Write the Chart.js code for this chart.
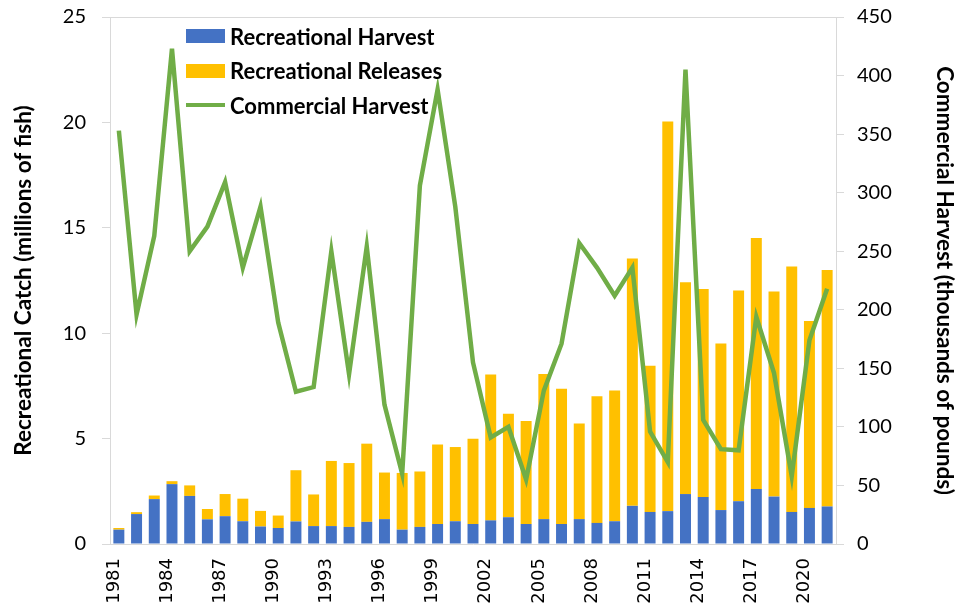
<!DOCTYPE html>
<html>
<head>
<meta charset="utf-8">
<script src="https://cdn.jsdelivr.net/npm/chart.js@4.4.1/dist/chart.umd.min.js"></script>
<style>
  html, body { margin: 0; padding: 0; background: #fff; }
  #wrap { position: relative; width: 958px; height: 612px; }
  #legend { position: absolute; left: 186px; top: 19px; font-family: Lato, 'Open Sans', sans-serif; font-weight: 700; font-size: 22px; color: #000; }
  .item { display: flex; align-items: center; height: 34.5px; }
  .swatch { width: 39px; height: 14px; margin-right: 5px; }
  .lineswatch { width: 39px; height: 4px; margin-right: 5px; }
</style>
</head>
<body>
<div id="wrap">
  <canvas id="chart" width="958" height="612"></canvas>
  <div id="legend"></div>
</div>
<script>
const years = [];
for (let y = 1981; y <= 2021; y++) years.push(String(y));

// millions of fish
const recHarvest = [0.68, 1.42, 2.13, 2.84, 2.28, 1.17, 1.32, 1.08, 0.83, 0.76,
  1.07, 0.85, 0.85, 0.81, 1.05, 1.18, 0.68, 0.81, 0.95, 1.08,
  0.95, 1.12, 1.27, 0.95, 1.18, 0.95, 1.18, 1.00, 1.08, 1.81,
  1.52, 1.56, 2.37, 2.23, 1.61, 2.03, 2.61, 2.25, 1.52, 1.71, 1.78];
const recReleases = [0.08, 0.09, 0.17, 0.14, 0.50, 0.49, 1.05, 1.07, 0.74, 0.59,
  2.43, 1.50, 3.09, 3.03, 3.71, 2.21, 2.69, 2.63, 3.77, 3.52,
  4.04, 6.92, 4.91, 4.89, 6.89, 6.41, 4.54, 6.01, 6.20, 11.73,
  6.93, 18.48, 10.05, 9.87, 7.90, 10.00, 11.91, 9.73, 11.65, 8.87, 11.22];
// thousands of pounds
const commHarvest = [353, 196, 263, 423, 250, 271, 309, 236, 288, 189,
  130, 134, 250, 145, 254, 119, 60, 306, 388, 288,
  155, 91, 100, 55, 131, 171, 257, 236, 212, 236,
  96, 70, 405, 106, 81, 80, 194, 146, 58, 174, 218];

const leftTicks = [0, 5, 10, 15, 20, 25];
const rightTicks = [0, 50, 100, 150, 200, 250, 300, 350, 400, 450];

const BLUE = '#4472C4', GOLD = '#FFC000', GREEN = '#70AD47', AXIS = '#D9D9D9';
const tickFont = { family: 'Lato', size: 20 };
const titleFont = { family: 'Lato', size: 22.5, weight: 'bold' };

// plot area border on top
const frameTop = {
  id: 'frameTop',
  afterDraw(chart) {
    const { ctx, chartArea: a } = chart;
    ctx.save();
    ctx.strokeStyle = AXIS;
    ctx.lineWidth = 1;
    ctx.beginPath();
    ctx.moveTo(a.left, a.top + 0.5);
    ctx.lineTo(a.right, a.top + 0.5);
    ctx.stroke();
    ctx.restore();
  }
};

// fixed axis widths, and no extra label padding above/below the plot
const fitVertical = w => s => { s.width = w; s.paddingTop = 0; s.paddingBottom = 0; };

const chart = new Chart(document.getElementById('chart').getContext('2d'), {
  type: 'bar',
  data: {
    labels: years,
    datasets: [
      { type: 'line', label: 'Commercial Harvest', data: commHarvest, yAxisID: 'y1', borderColor: GREEN, backgroundColor: GREEN, borderWidth: 4.5, pointRadius: 0, tension: 0, order: 0 },
      { label: 'Recreational Harvest', data: recHarvest, backgroundColor: BLUE, yAxisID: 'y', stack: 'rec', order: 1, barPercentage: 0.62, categoryPercentage: 1 },
      { label: 'Recreational Releases', data: recReleases, backgroundColor: GOLD, yAxisID: 'y', stack: 'rec', order: 1, barPercentage: 0.62, categoryPercentage: 1 }
    ]
  },
  options: {
    responsive: false,
    animation: false,
    layout: { padding: { top: 17, left: 0, right: 0, bottom: 0 } },
    plugins: { legend: { display: false }, tooltip: { enabled: false } },
    scales: {
      x: {
        stacked: true,
        grid: { display: false },
        border: { display: true, color: AXIS },
        ticks: {
          autoSkip: false, minRotation: 90, maxRotation: 90, padding: 6, labelOffset: -5,
          font: { family: 'DejaVu Sans', size: 18 }, color: '#000',
          callback: (v, i) => (i % 3 === 0 ? years[i] : '')
        },
        afterFit: s => { s.height = 68; }
      },
      y: {
        stacked: true, position: 'left', min: 0, max: 25,
        afterBuildTicks: s => { s.ticks = leftTicks.map(v => ({ value: v })); },
        grid: { drawOnChartArea: false, drawTicks: true, tickLength: 8, color: AXIS },
        border: { display: true, color: AXIS },
        ticks: { font: tickFont, color: '#000', padding: 16 },
        title: { display: true, text: 'Recreational Catch (millions of fish)', font: titleFont, color: '#000', padding: { top: 10, bottom: 0 } },
        afterFit: fitVertical(110)
      },
      y1: {
        position: 'right', min: 0, max: 450,
        afterBuildTicks: s => { s.ticks = rightTicks.map(v => ({ value: v })); },
        grid: { drawOnChartArea: false, drawTicks: true, tickLength: 8, color: AXIS },
        border: { display: true, color: AXIS },
        ticks: { font: tickFont, color: '#000', padding: 13 },
        title: { display: true, text: 'Commercial Harvest (thousands of pounds)', font: titleFont, color: '#000', padding: { top: 0, bottom: 10 } },
        afterFit: fitVertical(122)
      }
    }
  },
  plugins: [frameTop]
});

// legend inside plot area
const legend = document.getElementById('legend');
[chart.data.datasets[1], chart.data.datasets[2], chart.data.datasets[0]].forEach(ds => {
  const row = document.createElement('div');
  row.className = 'item';
  const sw = document.createElement('span');
  if (ds.type === 'line') { sw.className = 'lineswatch'; sw.style.background = ds.borderColor; }
  else { sw.className = 'swatch'; sw.style.background = ds.backgroundColor; }
  const t = document.createElement('span');
  t.textContent = ds.label;
  row.appendChild(sw); row.appendChild(t);
  legend.appendChild(row);
});
</script>
</body>
</html>
